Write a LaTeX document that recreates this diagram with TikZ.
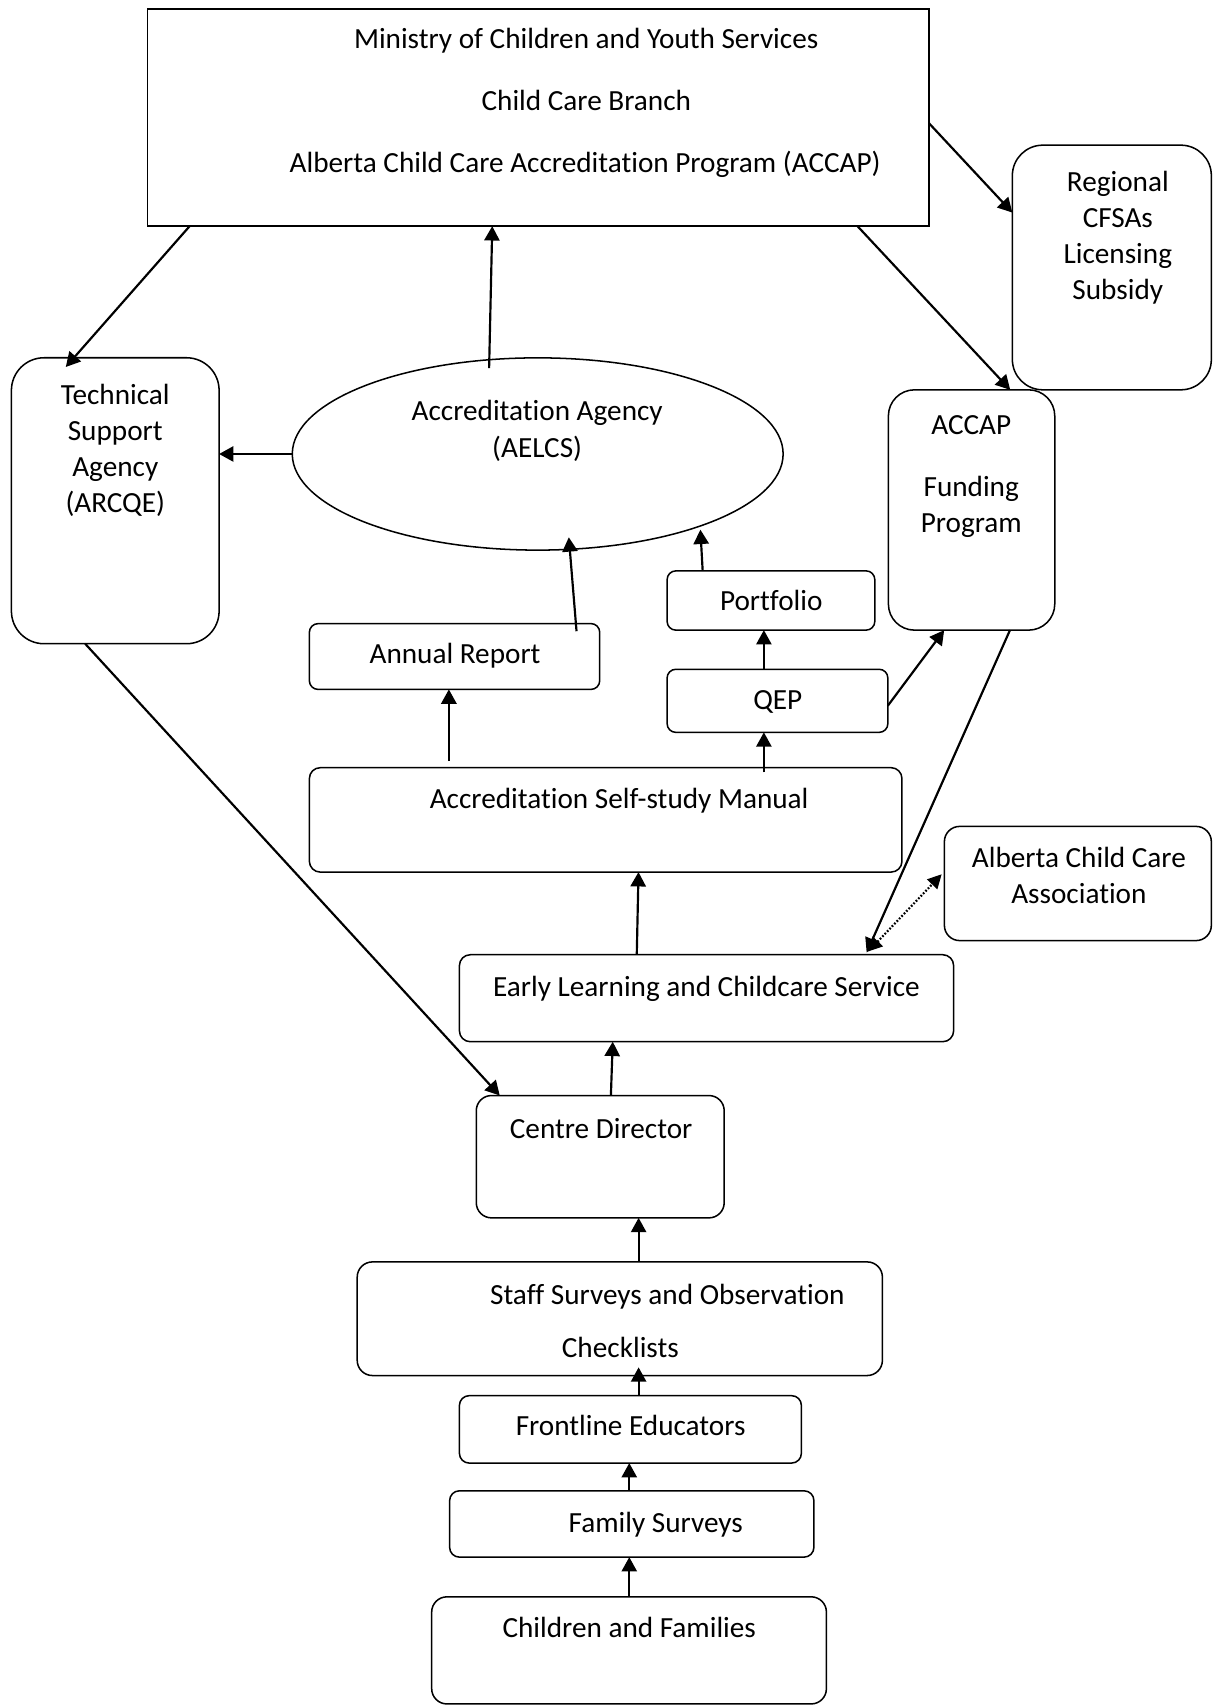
\documentclass[tikz,border=0pt]{standalone}
\usepackage{fontspec}
\setmainfont{Carlito}[Ligatures=NoCommon]
\usetikzlibrary{arrows.meta,shapes.geometric}
\newcommand\myfont{\fontsize{13.44pt}{16pt}\selectfont}
\newcommand\mkbox[6]{\node[#6, minimum width={(#4-#2)*0.5pt}, minimum height={(#5-#3)*0.5pt}] (#1) at ({(#2+#4)/2},{(#3+#5)/2}) {};}
\tikzset{
  bx/.style={draw, line width=0.7pt, inner sep=0pt, outer sep=0pt, rectangle},
  rbx/.style={bx, rounded corners=#1},
  tx/.style={inner sep=0pt, outer sep=0pt, anchor=base, font=\myfont},
  arr/.style={line width=1pt, -{Triangle[length=6.6pt,width=7pt]}},
  dotarr/.style={line width=1pt, dash pattern=on 0.8pt off 0.8pt, {Triangle[length=6.4pt,width=6.4pt]}-{Triangle[length=6.4pt,width=6.4pt]}},
}
\begin{document}
\begin{tikzpicture}[x=0.5pt,y=-0.5pt]
\useasboundingbox (0,0) rectangle (1116,1568);
% boxes
\mkbox{ministry}{135.5}{8.5}{854.5}{208}{bx}
\mkbox{regional}{931}{133.5}{1114}{358.5}{rbx=14pt}
\mkbox{tech}{10.5}{329}{201.5}{592}{rbx=15pt}
\node[draw, ellipse, line width=0.7pt, inner sep=0pt, outer sep=0pt, minimum width=225.7pt, minimum height=88.4pt] (ell) at (494.5,417.5) {};
\mkbox{accap}{817}{358.5}{970}{579.5}{rbx=12pt}
\mkbox{portfolio}{613.5}{525}{804.5}{579.5}{rbx=4pt}
\mkbox{annual}{284.5}{573.5}{551.5}{634}{rbx=4pt}
\mkbox{qep}{613.5}{615.5}{816.5}{673.5}{rbx=4pt}
\mkbox{self}{284.5}{706}{829.5}{802}{rbx=5pt}
\mkbox{acca}{868.5}{760}{1114}{865}{rbx=7pt}
\mkbox{elcs}{422.5}{878}{877}{958}{rbx=5pt}
\mkbox{centre}{438}{1007.5}{666}{1120}{rbx=7pt}
\mkbox{staff}{328.5}{1160.5}{811.5}{1265}{rbx=7pt}
\mkbox{front}{422.5}{1283.5}{737}{1345.5}{rbx=4.5pt}
\mkbox{family}{413.5}{1371}{748.5}{1432}{rbx=4.5pt}
\mkbox{children}{397}{1468.5}{760}{1567}{rbx=7pt}
% texts
\node[tx] (m1) at (539.1,44.4) {Ministry of Children and Youth Services};
\node[tx] (m2) at (539.2,101.2) {Child Care Branch};
\node[tx] (m3) at (538.1,158.8) {Alberta Child Care Accreditation Program (ACCAP)};
\node[tx] (r1) at (1028,176.3) {Regional};
\node[tx] (r2) at (1028,209.3) {CFSAs};
\node[tx] (r3) at (1028,242.1) {Licensing};
\node[tx] (r4) at (1028,275.2) {Subsidy};
\node[tx] (t1) at (106,372) {Technical};
\node[tx] (t2) at (106,405) {Support};
\node[tx] (t3) at (106,438) {Agency};
\node[tx] (t4) at (106,471) {(ARCQE)};
\node[tx] (e1) at (494,386.8) {Accreditation Agency};
\node[tx] (e2) at (494,420.5) {(AELCS)};
\node[tx] (a1) at (893.2,399.4) {ACCAP};
\node[tx] (a2) at (893.2,457) {Funding};
\node[tx] (a3) at (893.2,489.5) {Program};
\node[tx] (pt) at (709.3,561) {Portfolio};
\node[tx] (ar) at (418.5,610.2) {Annual Report};
\node[tx] (qt) at (715.3,652.4) {QEP};
\node[tx] (st) at (569.4,743.2) {Accreditation Self-study Manual};
\node[tx] (c1) at (992.2,798.2) {Alberta Child Care};
\node[tx] (c2) at (992.2,831) {Association};
\node[tx] (el) at (649.7,916.3) {Early Learning and Childcare Service};
\node[tx] (cd) at (552.8,1047.3) {Centre Director};
\node[tx] (s1) at (613.7,1199.5) {Staff Surveys and Observation};
\node[tx] (s2) at (570.5,1248.7) {Checklists};
\node[tx] (fe) at (580,1320.4) {Frontline Educators};
\node[tx] (fs) at (603.1,1408.9) {Family Surveys};
\node[tx] (cf) at (578.7,1506.3) {Children and Families};
% connectors
\draw[arr] (ministry.south -| 174.4,0) -- ([shift={(50,8.5)}]tech.north west);
\draw[arr] ([shift={(-44.7,9.5)}]ell.north) -- (ministry.south -| 452.7,0);
\draw[arr] (ministry.east |- 0,113.5) -- (regional.west |- 0,195.5);
\draw[arr] (ministry.south -| 788.6,0) -- (accap.north -| 929,0);
\draw[arr] (ell.west) -- (tech.east |- ell.west);
\draw[arr] ([shift={(245.7,7)}]annual.north west) -- ([shift={(28.6,76.6)}]ell.center);
\draw[arr] (portfolio.north -| 646.2,0) -- ([shift={(149.6,69.6)}]ell.center);
\draw[arr] (qep.north -| 702.5,0) -- (portfolio.south -| 702.5,0);
\draw[arr] (qep.east |- 0,649) -- (accap.south -| 868.3,0);
\draw[arr] ([shift={(128.3,-6)}]self.north west) -- (annual.south -| 412.8,0);
\draw[arr] ([shift={(418,4.4)}]self.north west) -- (qep.south -| 702.5,0);
\draw[arr] (elcs.north -| 585.6,0) -- (self.south -| 587.2,0);
\draw[arr] (accap.south -| 928.8,0) -- ([shift={(374.5,-2)}]elcs.north west);
\draw[dotarr] ([shift={(376,-3)}]elcs.north west) -- ([shift={(-2.5,44)}]acca.north west);
\draw[arr] (tech.south -| 78.3,0) -- (centre.north -| 459.6,0);
\draw[arr] (centre.north -| 561.8,0) -- (elcs.south -| 563.5,0);
\draw[arr] (staff.north -| 587.3,0) -- (centre.south -| 587.3,0);
\draw[arr] (front.north -| 587.3,0) -- ([shift={(258.8,-7.5)}]staff.south west);
\draw[arr] (family.north -| 578.7,0) -- (front.south -| 578.7,0);
\draw[arr] (children.north -| 578.7,0) -- (family.south -| 578.7,0);
\end{tikzpicture}
\end{document}
